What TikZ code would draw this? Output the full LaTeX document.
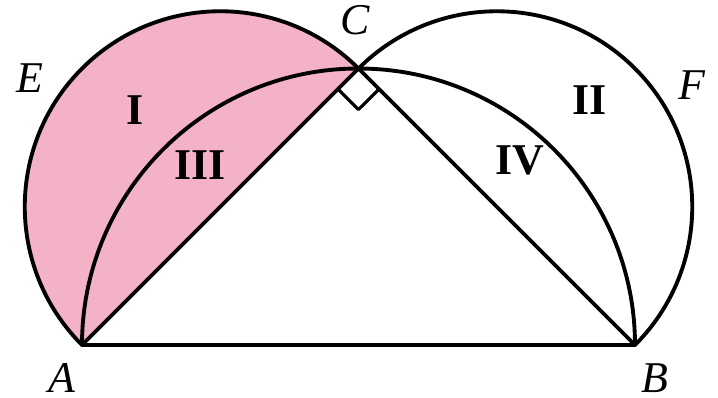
\documentclass[tikz,border=0pt]{standalone}
\usepackage{fontspec}
\setmainfont{Liberation Serif}
\usetikzlibrary{calc}
\definecolor{pinkfill}{RGB}{244,178,198}
\begin{document}
\begin{tikzpicture}[line width=1.1pt, line join=round, line cap=round, font=\fontsize{12.5}{14}\selectfont]
			\useasboundingbox (0,0) rectangle (7.18,3.97);
			\coordinate (A) at (0.82,0.52);
			\coordinate (B) at (6.35,0.52);
			\coordinate (O) at (3.585,0.52);
			\coordinate (C) at (3.585,3.285);
			% pink half disc on AC
			\fill[pinkfill] (C) arc[start angle=45, end angle=225, radius=1.955] -- cycle;
			\draw
			(A) -- (B)
			(A) -- (C) -- (B);
			\draw (B) arc[start angle=0, end angle=180, radius=2.765];
			\draw (C) arc[start angle=45, end angle=225, radius=1.955];
			\draw (B) arc[start angle=-45, end angle=135, radius=1.955];
			% right angle at C
			\draw[line width=0.9pt] ($(C)!0.29cm!(A)$) -- ++(0.205,-0.205) -- ($(C)!0.29cm!(B)$);
			\foreach \x/\y/\t in {
				0.30/3.19/E, 6.92/3.12/F, 3.55/3.77/C,
				0.62/0.19/A, 6.55/0.19/B}
			{
				\node (\t) at (\x,\y) {\textit{\t}};
			}
			\foreach \x/\y/\t/\n in {
				1.35/2.87/I/r1, 5.90/2.97/II/r2,
				2.00/2.32/III/r3, 5.20/2.37/IV/r4}
			{
				\node (\n) at (\x,\y) {\textbf{\t}};
			}
		\end{tikzpicture}
\end{document}
